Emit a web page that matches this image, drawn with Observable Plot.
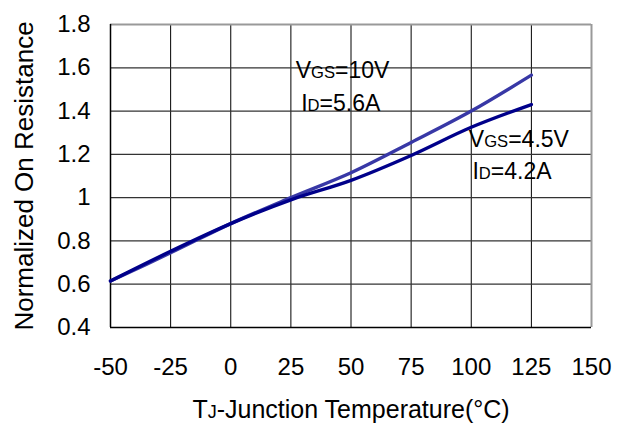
<!DOCTYPE html>
<html>
<head>
<meta charset="utf-8">
<script src="https://cdn.jsdelivr.net/npm/d3@7"></script>
<script src="https://cdn.jsdelivr.net/npm/@observablehq/plot@0.6"></script>
<style>
  html, body { margin: 0; padding: 0; background: white; }
</style>
</head>
<body>
<div id="chart"></div>
<script>
// Data
const temps = [-50, -25, 0, 25, 50, 75, 100, 125];
const ron10V = [0.615, 0.745, 0.88, 1.0, 1.115, 1.255, 1.40, 1.566];   // VGS=10V, ID=5.6A
const ron45V = [0.615, 0.752, 0.88, 0.99, 1.08, 1.195, 1.325, 1.43];   // VGS=4.5V, ID=4.2A

const xTicks = [-50, -25, 0, 25, 50, 75, 100, 125, 150];
const yTicks = [0.4, 0.6, 0.8, 1, 1.2, 1.4, 1.6, 1.8];

const annoLabels = ["V|GS|=10V", "I|D|=5.6A", "V|GS|=4.5V", "I|D|=4.2A"];
const annoX = [27, 29.3, 99, 100.5];
const annoY = [1.554, 1.401, 1.232, 1.086];

const xLabel = "T|J|-Junction Temperature(°C)";
const yLabel = "Normalized On Resistance";

const series10 = temps.map((t, i) => ({t, r: ron10V[i]}));
const series45 = temps.map((t, i) => ({t, r: ron45V[i]}));
const annos = annoLabels.map((label, i) => ({label, x: annoX[i], y: annoY[i]}));

const xInner = xTicks.slice(1, -1);
const yInner = yTicks.slice(1, -1);

const chart = Plot.plot({
  width: 625,
  height: 425,
  marginLeft: 110,
  marginRight: 34,
  marginTop: 24,
  marginBottom: 98,
  style: {fontFamily: "'Liberation Sans', Arial, sans-serif", fontSize: "24px", background: "white", color: "black"},
  x: {domain: [-50, 150], ticks: xTicks, tickSize: 0, tickPadding: 30, label: null, tickFormat: d => String(d)},
  y: {domain: [0.4, 1.8], ticks: yTicks, tickSize: 0, tickPadding: 20, label: null, tickFormat: d => String(d)},
  marks: [
    Plot.ruleX(xInner, {stroke: "black", strokeWidth: 1}),
    Plot.ruleY(yInner, {stroke: "#333", strokeWidth: 1.2}),
    Plot.ruleY([1.8], {stroke: "#999", strokeWidth: 2}),
    Plot.ruleX([150], {stroke: "#999", strokeWidth: 2}),
    Plot.ruleX([-50], {stroke: "black", strokeWidth: 1.5}),
    Plot.ruleY([0.4], {stroke: "black", strokeWidth: 1.5}),
    Plot.line(series10, {x: "t", y: "r", stroke: "#3838a6", strokeWidth: 3.4, curve: "catmull-rom"}),
    Plot.line(series45, {x: "t", y: "r", stroke: "#00008a", strokeWidth: 3.4, curve: "catmull-rom"}),
    Plot.text(annos, {x: "x", y: "y", text: "label", textAnchor: "start", lineAnchor: "bottom", fontSize: 23, fill: "black"}),
    Plot.text([xLabel], {frameAnchor: "bottom", textAnchor: "middle", dy: 90, lineAnchor: "bottom", fontSize: 25, fill: "black"}),
    Plot.text([yLabel], {frameAnchor: "left", textAnchor: "middle", dx: -86, rotate: -90, lineAnchor: "middle", fontSize: 26, fill: "black"})
  ]
});

// Render the small "subscript" parts (between | marks) as smaller tspans
d3.select(chart).selectAll("text").each(function() {
  const t = this.textContent;
  if (!t.includes("|")) return;
  const base = parseFloat(this.getAttribute("font-size")) || parseFloat(this.parentNode.getAttribute("font-size")) || 23;
  const parts = t.split("|");
  this.textContent = "";
  parts.forEach((p, i) => {
    if (!p) return;
    const ts = document.createElementNS("http://www.w3.org/2000/svg", "tspan");
    ts.textContent = p;
    if (i % 2 === 1) ts.setAttribute("font-size", (base * 0.72).toFixed(1));
    this.appendChild(ts);
  });
});

document.getElementById("chart").appendChild(chart);
</script>
</body>
</html>
